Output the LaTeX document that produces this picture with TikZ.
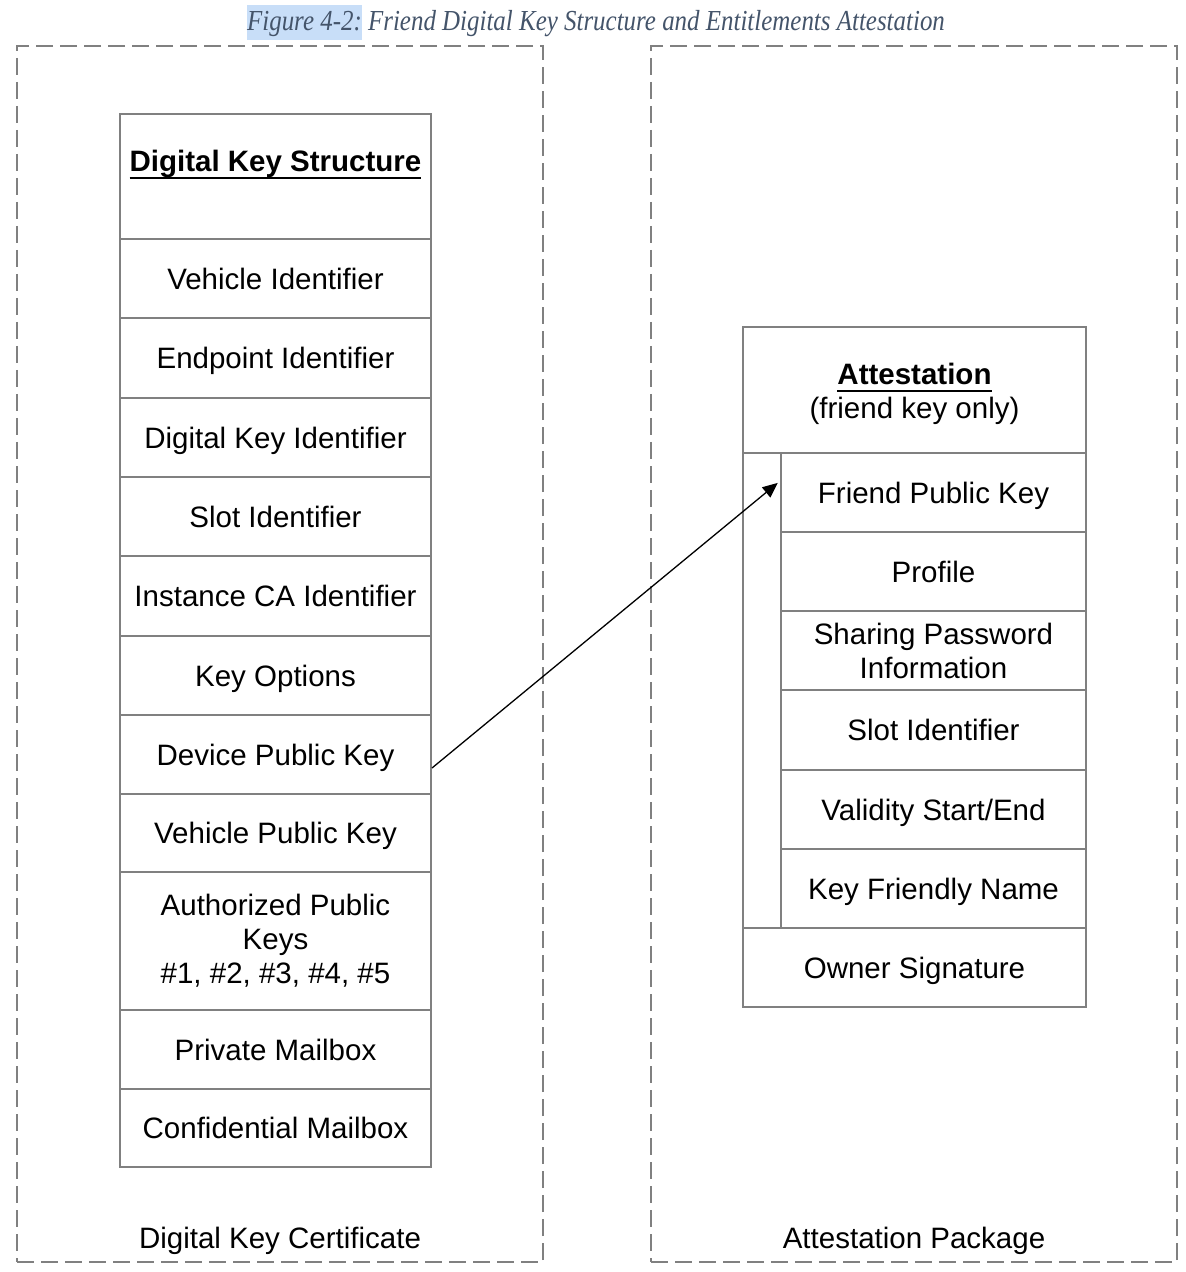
\documentclass[tikz,border=0pt]{standalone}
\usepackage{fontspec}
\setmainfont{Liberation Sans}
\newfontfamily\capfont[FakeStretch=0.86]{Liberation Serif}
\usetikzlibrary{arrows.meta}
\definecolor{cellgray}{RGB}{128,128,128}
\definecolor{capblue}{RGB}{68,84,106}
\definecolor{hlblue}{RGB}{200,222,248}
\newcommand\myul[1]{\setbox0\hbox{#1}\rlap{\vrule height -2.6pt depth 3.6pt width \wd0}\box0}
\begin{document}
\begin{tikzpicture}[x=0.5pt,y=-0.5pt,
  txt/.style={inner sep=0pt, align=center, font=\fontsize{14.75}{17}\selectfont, text=black},
  one/.style={text height=13.3pt, text depth=2.7pt},
  cell/.style={txt, draw=cellgray, line width=1pt},
  lcell/.style={cell, minimum width=155.5pt},
  icell/.style={cell, minimum width=152.5pt, minimum height=39.5pt},
  dashbox/.style={draw=cellgray, line width=1pt, dash pattern=on 8.5pt off 3.5pt, minimum width=263pt, minimum height=608pt, inner sep=0pt},
  arrowline/.style={draw=black, line width=0.65pt, -{Triangle[length=7.5pt,width=6.5pt]}}
]
\useasboundingbox (0,0) rectangle (1185,1272);
\fill[white] (0,0) rectangle (1185,1272);

% caption
\node[inner sep=0pt, anchor=base, text=capblue, font=\capfont\itshape\fontsize{14.5}{17}\selectfont] (cap) at (596,31)
  {{\setlength{\fboxsep}{0pt}\colorbox{hlblue}{\rule[-4.5pt]{0pt}{17.5pt}Figure 4-2:}} Friend Digital Key Structure and Entitlements Attestation};

% dashed containers
\node[dashbox] (cert) at (280,654) {};
\node[dashbox] (pkg) at (914,654) {};
\node[txt, one] (certlbl) at (280,1238) {Digital Key Certificate};
\node[txt, one] (pkglbl) at (914,1238) {Attestation Package};

% left stack
\node[lcell, minimum height=62.5pt] (hdr) at (275.5,176.5) {};
\node[txt, one] (hdrtxt) at (275.5,161) {\bfseries\myul{Digital Key Structure}};
\node[lcell, one, minimum height=39.5pt] (r1) at (275.5,278.5) {Vehicle Identifier};
\node[lcell, one, minimum height=40pt] (r2) at (275.5,358) {Endpoint Identifier};
\node[lcell, one, minimum height=39.5pt] (r3) at (275.5,437.5) {Digital Key Identifier};
\node[lcell, one, minimum height=39.5pt] (r4) at (275.5,516.5) {Slot Identifier};
\node[lcell, one, minimum height=40pt] (r5) at (275.5,596) {Instance CA Identifier};
\node[lcell, one, minimum height=39.5pt] (r6) at (275.5,675.5) {Key Options};
\node[lcell, one, minimum height=39.5pt] (r7) at (275.5,754.5) {Device Public Key};
\node[lcell, one, minimum height=39pt] (r8) at (275.5,833) {Vehicle Public Key};
\node[lcell, minimum height=69pt] (r9) at (275.5,941) {Authorized Public\\Keys\\\#1, \#2, \#3, \#4, \#5};
\node[lcell, one, minimum height=39.5pt] (r10) at (275.5,1049.5) {Private Mailbox};
\node[lcell, one, minimum height=39pt] (r11) at (275.5,1128) {Confidential Mailbox};

% right stack
\node[cell, minimum width=171.5pt, minimum height=63pt] (ahdr) at (914.5,390) {};
\node[txt] (ahdrtxt) at (914.5,394) {\bfseries\myul{Attestation}\\(friend key only)};
\node[cell, minimum width=19pt, minimum height=237.5pt] (strip) at (762,690.5) {};
\node[icell, one] (f1) at (933.5,492.5) {Friend Public Key};
\node[icell, one] (f2) at (933.5,571.5) {Profile};
\node[icell] (f3) at (933.5,650.5) {Sharing Password\\Information};
\node[icell, one, minimum height=40pt] (f4) at (933.5,730) {Slot Identifier};
\node[icell, one] (f5) at (933.5,809.5) {Validity Start/End};
\node[icell, one] (f6) at (933.5,888.5) {Key Friendly Name};
\node[cell, one, minimum width=171.5pt, minimum height=39.5pt] (own) at (914.5,967.5) {Owner Signature};

% connector
\draw[arrowline, shorten >=1.5pt] ([yshift=-6.75pt]r7.east) -- ([yshift=5.75pt]f1.west);
\end{tikzpicture}
\end{document}
